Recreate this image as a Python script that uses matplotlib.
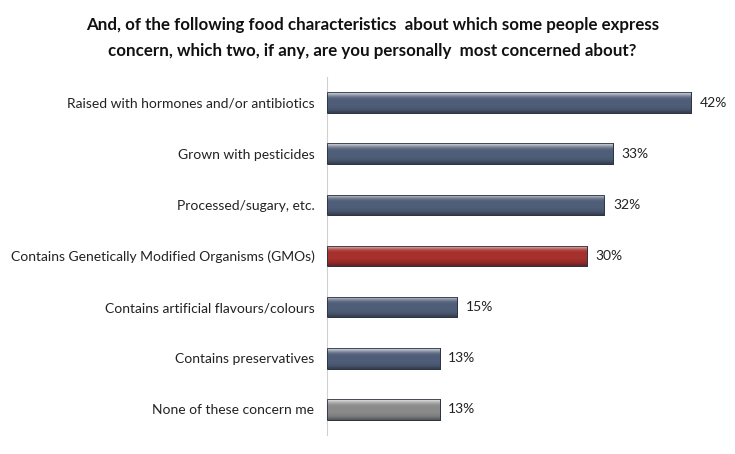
import numpy as np
import matplotlib.pyplot as plt
from matplotlib.colors import LinearSegmentedColormap

categories = [
    "Raised with hormones and/or antibiotics",
    "Grown with pesticides",
    "Processed/sugary, etc.",
    "Contains Genetically Modified Organisms (GMOs)",
    "Contains artificial flavours/colours",
    "Contains preservatives",
    "None of these concern me",
]
values = [42, 33, 32, 30, 15, 13, 13]
value_labels = ["42%", "33%", "32%", "30%", "15%", "13%", "13%"]
bar_colors = ["#4f5e78", "#4f5e78", "#4f5e78", "#a5302c", "#4f5e78", "#4f5e78", "#8a8a8a"]
title_lines = [
    "And, of the following food characteristics  about which some people express",
    "concern, which two, if any, are you personally  most concerned about?",
]

plt.rcParams['font.family'] = ['Lato', 'DejaVu Sans']

fig = plt.figure(figsize=(7.35, 4.54), dpi=100)
ax = fig.add_axes([327 / 735, 19 / 454, 390 / 735, 358 / 454])

y = np.arange(len(categories))
bars = ax.barh(y, values, height=0.4, color=bar_colors, edgecolor="#2a3240", linewidth=0.6, zorder=2)

# bevel look: light strip at the top, flat body, darker bottom edge
shade = np.array([0.85, 0.72, 0.6, 0.52, 0.5, 0.5, 0.5, 0.5, 0.48, 0.45, 0.4, 0.3]).reshape(-1, 1)
for bar, c in zip(bars, bar_colors):
    cmap = LinearSegmentedColormap.from_list("b", ["#10141c", c, "#ffffff"])
    x0, y0 = bar.get_x(), bar.get_y()
    w, h = bar.get_width(), bar.get_height()
    im = ax.imshow(shade, cmap=cmap, vmin=0, vmax=1, aspect="auto",
                   extent=[x0, x0 + w, y0 + h, y0], interpolation="bilinear", zorder=3)
    im.set_clip_path(bar)
    ax.add_patch(plt.Rectangle((x0, y0), w, h, fill=False, edgecolor="#2a3240", linewidth=0.6, zorder=5))

for yi, v, lab in zip(y, values, value_labels):
    ax.text(v + 1.0, yi, lab, va="center", ha="left", fontsize=10, color="#222222")

ax.set_xlim(0, 45)
ax.set_ylim(len(categories) - 0.5, -0.5)
ax.set_yticks(y)
ax.set_yticklabels(categories, fontsize=10, color="#222222")
ax.tick_params(axis="y", length=0, pad=9)
ax.set_xticks([])
for s in ["top", "right", "bottom"]:
    ax.spines[s].set_visible(False)
ax.spines["left"].set_color("#d0d0d0")

fig.text(0.507, 1 - 25 / 454, title_lines[0], ha="center", va="center",
         fontsize=12.2, fontweight="bold", color="#111111")
fig.text(0.507, 1 - 51 / 454, title_lines[1], ha="center", va="center",
         fontsize=12.2, fontweight="bold", color="#111111")

fig.savefig("out.png", dpi=100)
